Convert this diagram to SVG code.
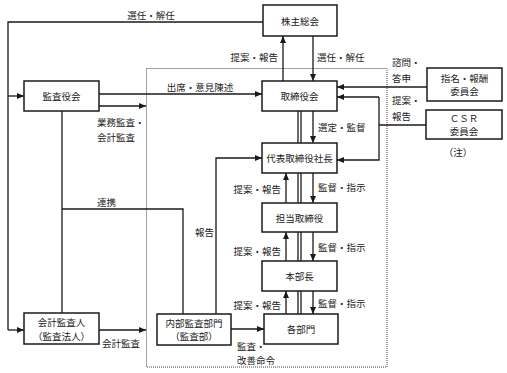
<svg xmlns="http://www.w3.org/2000/svg" width="507" height="373" viewBox="0 0 507 373">
<style>
.box{fill:#fff;stroke:#1a1a1a;stroke-width:1.5}
.ln{fill:none;stroke:#1a1a1a;stroke-width:1.3}
.ar{fill:none;stroke:#1a1a1a;stroke-width:1.3;marker-end:url(#ah)}
.dot{fill:none;stroke:#444;stroke-width:1;stroke-dasharray:1 1}
text{font-family:"Noto Sans CJK JP","Noto Sans",sans-serif;font-size:9.5px;fill:#222;dominant-baseline:central}
.c{text-anchor:middle}
.e{text-anchor:end}
</style>
<defs>
<marker id="ah" markerUnits="userSpaceOnUse" markerWidth="8" markerHeight="8" viewBox="0 0 8 8" refX="7" refY="4" orient="auto">
<path d="M0,1 L7,4 L0,7 Z" fill="#1a1a1a"/>
</marker>
</defs>
<rect class="dot" x="146.5" y="68.5" width="240.5" height="298.5"/>
<g id="connectors">
<polyline class="ln" points="263,22 8,22 8,330"/>
<line class="ar" x1="8" y1="96" x2="24" y2="96"/>
<line class="ar" x1="8" y1="330" x2="24" y2="330"/>
<line class="ar" x1="283" y1="81" x2="283" y2="36"/>
<line class="ar" x1="313" y1="36" x2="313" y2="81"/>
<line class="ar" x1="99" y1="94" x2="262" y2="94"/>
<line class="ar" x1="99" y1="106" x2="146" y2="106"/>
<line class="ln" x1="62" y1="111" x2="62" y2="313"/>
<polyline class="ln" points="62,209 183,209 183,314"/>
<polyline class="ar" points="216,314 216,158 262,158"/>
<line class="ln" x1="298" y1="111" x2="298" y2="143"/>
<line class="ln" x1="301" y1="111" x2="301" y2="143"/>
<line class="ln" x1="298" y1="173" x2="298" y2="203"/>
<line class="ln" x1="301" y1="173" x2="301" y2="203"/>
<line class="ln" x1="298" y1="232" x2="298" y2="261"/>
<line class="ln" x1="301" y1="232" x2="301" y2="261"/>
<line class="ln" x1="298" y1="291" x2="298" y2="314"/>
<line class="ln" x1="301" y1="291" x2="301" y2="314"/>
<line class="ar" x1="313" y1="111" x2="313" y2="143"/>
<line class="ar" x1="313" y1="173" x2="313" y2="203"/>
<line class="ar" x1="313" y1="232" x2="313" y2="261"/>
<line class="ar" x1="313" y1="291" x2="313" y2="314"/>
<line class="ar" x1="286" y1="203" x2="286" y2="173"/>
<line class="ar" x1="286" y1="261" x2="286" y2="232"/>
<line class="ar" x1="286" y1="314" x2="286" y2="291"/>
<line class="ar" x1="427" y1="87" x2="337" y2="87"/>
<polyline class="ln" points="426,125 379,125"/>
<polyline class="ar" points="379,97 337,97"/>
<polyline class="ar" points="379,97 379,160 337,160"/>
<line class="ar" x1="231" y1="329" x2="264" y2="329"/>
<line class="ar" x1="99" y1="330" x2="146" y2="330"/>
<text class="c" x="151" y="15">選任・解任</text>
<text class="e" x="278" y="57">提案・報告</text>
<text x="317" y="57">選任・解任</text>
<text class="c" x="200" y="87">出席・意見陳述</text>
<text x="97" y="122">業務監査・</text>
<text x="97" y="137">会計監査</text>
<text x="97" y="202">連携</text>
<text x="195" y="232">報告</text>
<text x="318" y="127">選定・監督</text>
<text x="318" y="187">監督・指示</text>
<text x="318" y="247">監督・指示</text>
<text x="318" y="303">監督・指示</text>
<text class="e" x="281" y="189">提案・報告</text>
<text class="e" x="281" y="251">提案・報告</text>
<text class="e" x="281" y="305">提案・報告</text>
<text x="392" y="62">諮問・</text>
<text x="392" y="78">答申</text>
<text x="392" y="100">提案・</text>
<text x="392" y="116">報告</text>
<text x="237" y="346">監査・</text>
<text x="237" y="360">改善命令</text>
<text x="102" y="343">会計監査</text>
</g>
<g id="kabunushi"><rect class="box" x="263" y="5" width="74" height="31"/><text class="c" x="300" y="20.5">株主総会</text></g>
<g id="torishimariyakukai"><rect class="box" x="262" y="81" width="75" height="30"/><text class="c" x="299.5" y="96">取締役会</text></g>
<g id="kansayakukai"><rect class="box" x="24" y="81" width="75" height="30"/><text class="c" x="61.5" y="96">監査役会</text></g>
<g id="shimei"><rect class="box" x="427" y="68" width="75" height="33"/><text class="c" x="464.5" y="78">指名・報酬</text><text class="c" x="464.5" y="91">委員会</text></g>
<g id="csr"><rect class="box" x="426" y="110" width="76" height="29"/><text class="c" x="464" y="118">ＣＳＲ</text><text class="c" x="464" y="131">委員会</text></g>
<g id="note"><text class="c" x="458" y="152">（注）</text></g>
<g id="daihyo"><rect class="box" x="262" y="143" width="75" height="30"/><text class="c" x="299.5" y="158">代表取締役社長</text></g>
<g id="tanto"><rect class="box" x="262" y="203" width="75" height="29"/><text class="c" x="299.5" y="217.5">担当取締役</text></g>
<g id="honbucho"><rect class="box" x="262" y="261" width="75" height="30"/><text class="c" x="299.5" y="276">本部長</text></g>
<g id="kakubumon"><rect class="box" x="264" y="314" width="74" height="30"/><text class="c" x="301" y="329">各部門</text></g>
<g id="naibukansa"><rect class="box" x="157" y="314" width="74" height="31"/><text class="c" x="194" y="323">内部監査部門</text><text class="c" x="194" y="336">（監査部）</text></g>
<g id="kaikei"><rect class="box" x="24" y="313" width="75" height="31"/><text class="c" x="61.5" y="322">会計監査人</text><text class="c" x="61.5" y="336">（監査法人）</text></g>
</svg>
